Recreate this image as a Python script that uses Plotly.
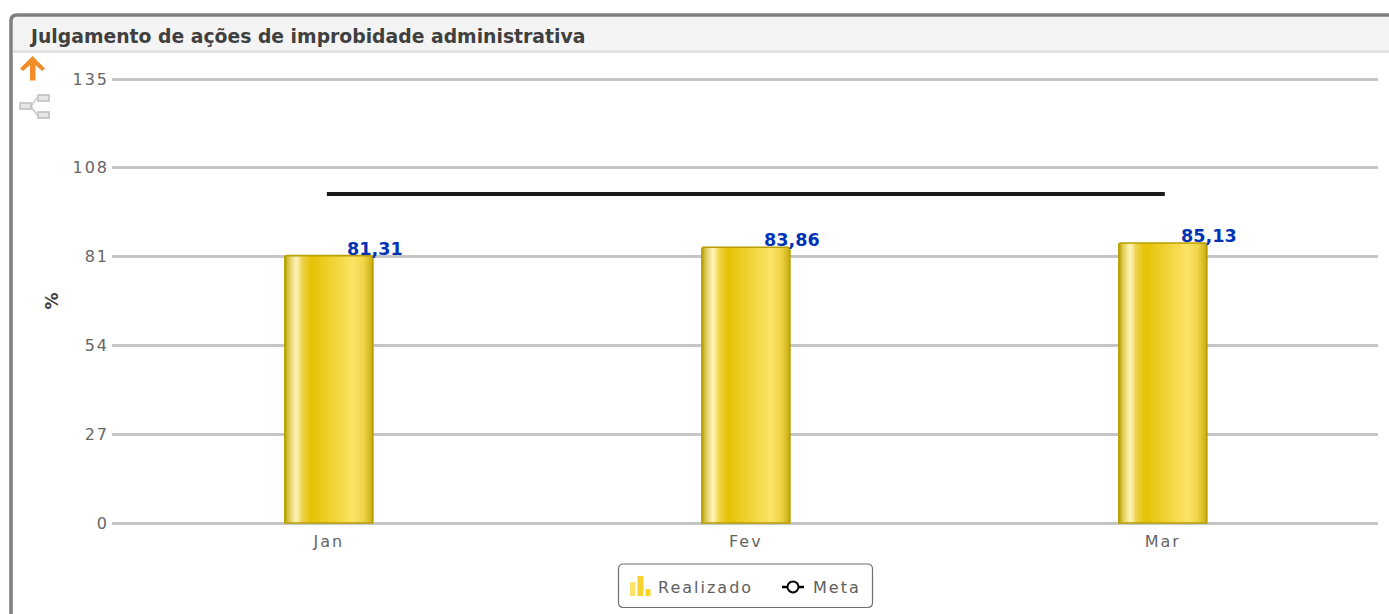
import plotly.graph_objects as go

categories = ["Jan", "Fev", "Mar"]
realizado = [81.31, 83.86, 85.13]
meta = [100, 100, 100]
y_ticks = [0, 27, 54, 81, 108, 135]
title_text = "Julgamento de ações de improbidade administrativa"

W, H = 1389, 614
L, R, T, B = 112, 11, 74, 86
Y_RANGE = [-1.52, 136.52]
BAR_W = 0.211
STRIPES = 44
STOPS = [(0, (184, 160, 10)), (.05, (225, 205, 90)), (.13, (255, 245, 190)), (.2, (240, 210, 70)),
         (.3, (229, 194, 5)), (.5, (238, 208, 45)), (.78, (253, 228, 105)), (.9, (238, 212, 70)), (1, (200, 172, 15))]


def stripe_color(t):
    for (a, ca), (b, cb) in zip(STOPS, STOPS[1:]):
        if t <= b:
            k = (t - a) / (b - a)
            return "rgb(%d,%d,%d)" % tuple(round(p + (q - p) * k) for p, q in zip(ca, cb))
    return "rgb(%d,%d,%d)" % STOPS[-1][1]


def X(px):
    return (px - L) / (W - L - R)


def Y(py):
    return 1 - (py - T) / (H - T - B)


def path(points, close=True):
    s = ""
    for cmd, *xy in points:
        s += cmd
        if xy:
            s += f"{X(xy[0]):.5f},{Y(xy[1]):.5f} "
    return s + ("Z" if close else "")


def box(x0, y0, x1, y1, fill=None, line=None, width=1, layer="below"):
    return dict(type="rect", xref="paper", yref="paper", x0=X(x0), x1=X(x1), y0=Y(y0), y1=Y(y1),
                fillcolor=fill or "rgba(0,0,0,0)", line=dict(color=line or "rgba(0,0,0,0)", width=width if line else 0),
                layer=layer)


def rounded(x0, y0, x1, y1, r, line, width, fill="rgba(0,0,0,0)"):
    p = path([("M", x0 + r, y0), ("L", x1 - r, y0), ("Q", x1, y0), ("", x1, y0 + r), ("L", x1, y1 - r), ("Q", x1, y1),
              ("", x1 - r, y1), ("L", x0 + r, y1), ("Q", x0, y1), ("", x0, y1 - r), ("L", x0, y0 + r), ("Q", x0, y0),
              ("", x0 + r, y0)])
    return dict(type="path", xref="paper", yref="paper", path=p, fillcolor=fill, line=dict(color=line, width=width), layer="below")


fig = go.Figure()

step = BAR_W / STRIPES
for i in range(STRIPES):
    fig.add_bar(x=categories, y=realizado, width=step * 1.15, offset=-BAR_W / 2 + i * step,
                marker=dict(color=stripe_color((i + .5) / STRIPES), line=dict(width=0)),
                showlegend=False, hoverinfo="skip")
fig.add_bar(x=categories, y=realizado, width=BAR_W, showlegend=False, name="Realizado",
            marker=dict(color="rgba(0,0,0,0)", line=dict(color="#b8a000", width=1.6), cornerradius=2))
fig.add_bar(x=categories, y=[None] * 3, name="Realizado", marker=dict(color="rgba(0,0,0,0)", line=dict(width=0)))
fig.add_scatter(x=categories, y=meta, mode="lines", line=dict(color="#1a1a1a", width=4), showlegend=False, name="Meta")
fig.add_scatter(x=categories, y=[None] * 3, mode="markers", name="Meta",
                marker=dict(symbol="circle", size=11, color="#ffffff", line=dict(color="#000000", width=2)))

for c, v in zip(categories, realizado):
    fig.add_annotation(x=c, y=v, text=f"{v:.2f}".replace(".", ","), showarrow=False, xshift=46, yshift=-5,
                       yanchor="bottom", font=dict(family="DejaVu Sans", size=17.6, color="#0033b5", weight="bold"))

fig.add_annotation(xref="paper", yref="paper", x=X(27), y=Y(37), xanchor="left", yanchor="middle", showarrow=False,
                   text=f"<b>{title_text}</b>", font=dict(family="DejaVu Sans", size=18.8, color="#404040"))

shapes = [
    box(13, 16, 1395, 50, fill="#f4f4f4"),
    box(13, 50, 1395, 53, fill="#e2e2e2"),
    rounded(11, 15, 1400, 640, 6, "#7f7f7f", 3.5),
    rounded(618.5, 564, 872.5, 607.5, 5, "#6e6e6e", 1.2, "#ffffff"),
    box(630, 582, 635.5, 596, fill="#fbe46a"),
    box(637.5, 576, 643.5, 596, fill="#f5d430"),
    box(645.5, 589, 650.5, 596, fill="#f7d820"),
    dict(type="line", xref="paper", yref="paper", x0=X(782), x1=X(804), y0=Y(587), y1=Y(587),
         line=dict(color="#000000", width=2.5), layer="below"),
    dict(type="path", xref="paper", yref="paper", fillcolor="#f28c28", line=dict(width=0), layer="below",
         path=path([("M", 32.5, 56), ("L", 45, 68.5), ("L", 42, 71), ("L", 35.5, 65), ("L", 35.5, 80.5), ("L", 30, 80.5),
                    ("L", 30, 65), ("L", 23, 71), ("L", 20, 68.5)])),
    dict(type="path", xref="paper", yref="paper", line=dict(color="#c8c8c8", width=1.5), layer="below",
         path=path([("M", 31, 106), ("L", 37, 98), ("M", 31, 106), ("L", 37, 115)], close=False)),
    box(20, 103, 31, 109, fill="#e6e6e6", line="#bcbcbc", width=1.5),
    box(38, 95, 49, 101, fill="#e6e6e6", line="#bcbcbc", width=1.5),
    box(38, 112, 49, 118, fill="#e6e6e6", line="#bcbcbc", width=1.5),
]

fig.update_layout(
    width=W, height=H, autosize=False, margin=dict(l=L, r=R, t=T, b=B, pad=0),
    paper_bgcolor="#ffffff", plot_bgcolor="#ffffff", barmode="overlay", shapes=shapes, hovermode=False,
    font=dict(family="DejaVu Sans", color="#555555"),
    xaxis=dict(type="category", categoryorder="array", categoryarray=categories, range=[-0.52, 2.516],
               showgrid=False, showline=False, zeroline=False, ticks="", tickfont=dict(size=16, color="#666666"), ticklabelstandoff=2),
    yaxis=dict(range=Y_RANGE, tickvals=y_ticks, showgrid=True, gridcolor="#c6c6c6", gridwidth=3, zeroline=False, showline=False,
               ticks="", tickfont=dict(size=16, color="#666666"), ticklabelstandoff=2,
               title=dict(text="<b>%</b>", font=dict(size=17, color="#404040"), standoff=15)),
    legend=dict(orientation="h", xref="container", yref="container", x=618 / W, y=1 - 587 / H, xanchor="left", yanchor="middle",
                bgcolor="rgba(0,0,0,0)", borderwidth=0, font=dict(size=16, color="#606060", family="DejaVu Sans"),
                traceorder="normal", itemwidth=30, entrywidth=110, entrywidthmode="pixels"),
)

css = """
document.body.style.margin='0';document.body.style.overflow='hidden';
document.querySelectorAll('.xtick text,.ytick text,.legendtext').forEach(function(t){t.style.letterSpacing='2px';});
document.querySelectorAll('.scatterlayer .js-line').forEach(function(t){t.style.strokeLinecap='square';});
"""
fig.write_html("out.html", post_script=css, config={"displayModeBar": False})
